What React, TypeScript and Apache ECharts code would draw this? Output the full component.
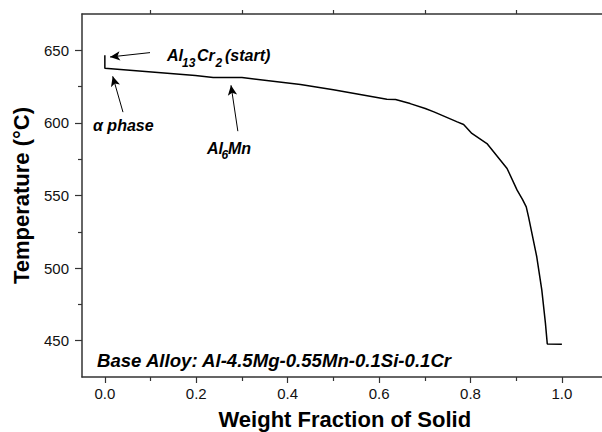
import React, { useEffect, useRef } from "react";
import * as echarts from "echarts";

// Weight fraction of solid (x) and temperature in °C (y)
const fractionSolid = [0, 0, 0.198, 0.237, 0.3, 0.428, 0.5, 0.617, 0.636, 0.668, 0.701, 0.72, 0.771, 0.785, 0.803, 0.836, 0.88, 0.902, 0.914, 0.922, 0.927, 0.945, 0.956, 0.964, 0.968, 1.0];
const temperature = [646.6, 637.6, 632.6, 631.2, 631.2, 626.4, 622.8, 616.3, 616.1, 613.3, 609.9, 607.6, 600.7, 598.9, 592.7, 585.8, 568.6, 553.7, 547.2, 542.2, 535.3, 507.8, 485.0, 461.9, 447.8, 447.5];

const xTickLabels = [0, 0.2, 0.4, 0.6, 0.8, 1.0];
const xMinorTicks = [0.1, 0.3, 0.5, 0.7, 0.9];
const yTickLabels = [450, 500, 550, 600, 650];
const yMinorTicks = [475, 525, 575, 625];

// Annotation arrows in data space: [fromX, fromY, toX, toY]
const arrows = [
  [0.0988, 648.4, 0.0113, 645.4],
  [0.0397, 607.4, 0.0172, 632.1],
  [0.291, 594.3, 0.276, 625.9],
];

const FONT = "'Liberation Sans', Arial, sans-serif";
const AXIS_COLOR = "#333";

function label(text: string, x: number, y: number, size: number) {
  return {
    type: "text",
    x,
    y,
    silent: true,
    style: {
      text,
      fontSize: size,
      fontWeight: "bold",
      fontStyle: "italic",
      fontFamily: FONT,
      fill: "#000",
      verticalAlign: "middle",
      align: "left",
    },
  };
}

export default function App() {
  const ref = useRef<HTMLDivElement>(null);
  useEffect(() => {
    if (!ref.current) return;
    const chart = echarts.init(ref.current, undefined, { renderer: "svg" });
    const gridBox = { left: 82, top: 14, width: 525.6, height: 363, containLabel: false, outerBoundsMode: "none" };
    const xRange = { min: -0.05, max: 1.1 };
    const yRange = { min: 425, max: 675 };
    const tickStyle = { color: AXIS_COLOR, width: 1.2 };

    chart.setOption({
      animation: false,
      grid: [{ ...gridBox }, { ...gridBox }],
      xAxis: [
        {
          type: "value",
          gridIndex: 0,
          position: "bottom",
          ...xRange,
          name: "Weight Fraction of Solid",
          nameLocation: "middle",
          nameGap: 31,
          nameTextStyle: { fontSize: 22, fontWeight: "bold", fontFamily: FONT, color: "#000" },
          axisLine: { show: true, onZero: false, lineStyle: { color: AXIS_COLOR, width: 1.5 } },
          axisTick: { show: true, customValues: xTickLabels, length: 6, lineStyle: tickStyle },
          axisLabel: { customValues: xTickLabels, formatter: (v: number) => v.toFixed(1), fontSize: 15, fontFamily: FONT, color: "#111", margin: 9 },
          splitLine: { show: false },
        },
        {
          type: "value",
          gridIndex: 0,
          position: "top",
          ...xRange,
          axisLine: { show: true, onZero: false, lineStyle: { color: AXIS_COLOR, width: 1.5 } },
          axisTick: { show: true, customValues: xMinorTicks, length: 4, lineStyle: tickStyle },
          axisLabel: { show: false, customValues: xMinorTicks },
          splitLine: { show: false },
        },
        {
          type: "value",
          gridIndex: 1,
          position: "bottom",
          ...xRange,
          axisLine: { show: false, onZero: false },
          axisTick: { show: true, customValues: xMinorTicks, length: 4, lineStyle: tickStyle },
          axisLabel: { show: false, customValues: xMinorTicks },
          splitLine: { show: false },
        },
      ],
      yAxis: [
        {
          type: "value",
          gridIndex: 0,
          position: "left",
          ...yRange,
          name: "Temperature (°C)",
          nameLocation: "middle",
          nameGap: 50,
          nameTextStyle: { fontSize: 22, fontWeight: "bold", fontFamily: FONT, color: "#000" },
          axisLine: { show: true, onZero: false, lineStyle: { color: AXIS_COLOR, width: 1.5 } },
          axisTick: { show: true, customValues: yTickLabels, length: 7, lineStyle: tickStyle },
          axisLabel: { customValues: yTickLabels, fontSize: 15, fontFamily: FONT, color: "#111", margin: 13 },
          splitLine: { show: false },
        },
        {
          type: "value",
          gridIndex: 1,
          position: "left",
          ...yRange,
          axisLine: { show: false, onZero: false },
          axisTick: { show: true, customValues: yMinorTicks, length: 4, lineStyle: tickStyle },
          axisLabel: { show: false, customValues: yMinorTicks },
          splitLine: { show: false },
        },
      ],
      series: [
        {
          type: "line",
          xAxisIndex: 0,
          yAxisIndex: 0,
          data: fractionSolid.map((x, i) => [x, temperature[i]]),
          showSymbol: false,
          symbol: "none",
          lineStyle: { color: "#000", width: 1.5 },
          silent: true,
          markLine: {
            silent: true,
            symbol: ["none", "arrow"],
            symbolSize: [7, 10],
            label: { show: false },
            lineStyle: { color: "#000", width: 1, type: "solid" },
            emphasis: { disabled: true },
            data: arrows.map(([x1, y1, x2, y2]) => [{ coord: [x1, y1] }, { coord: [x2, y2] }]),
          },
        },
      ],
      graphic: [
        label("Al", 167, 55, 16),
        label("13", 182, 63, 12),
        label("Cr", 197, 55, 16),
        label("2", 215.5, 63, 12),
        label("(start)", 225, 55, 16),
        label("α phase", 93, 125, 16),
        label("Al", 207, 148.3, 16),
        label("6", 221.5, 155, 12),
        label("Mn", 228, 148.3, 16),
        label("Base Alloy: Al-4.5Mg-0.55Mn-0.1Si-0.1Cr", 97, 360, 18.6),
      ],
    });
    return () => chart.dispose();
  }, []);
  return <div ref={ref} style={{ position: "fixed", left: 0, top: 0, width: 602, height: 432, background: "#fff" }} />;
}
